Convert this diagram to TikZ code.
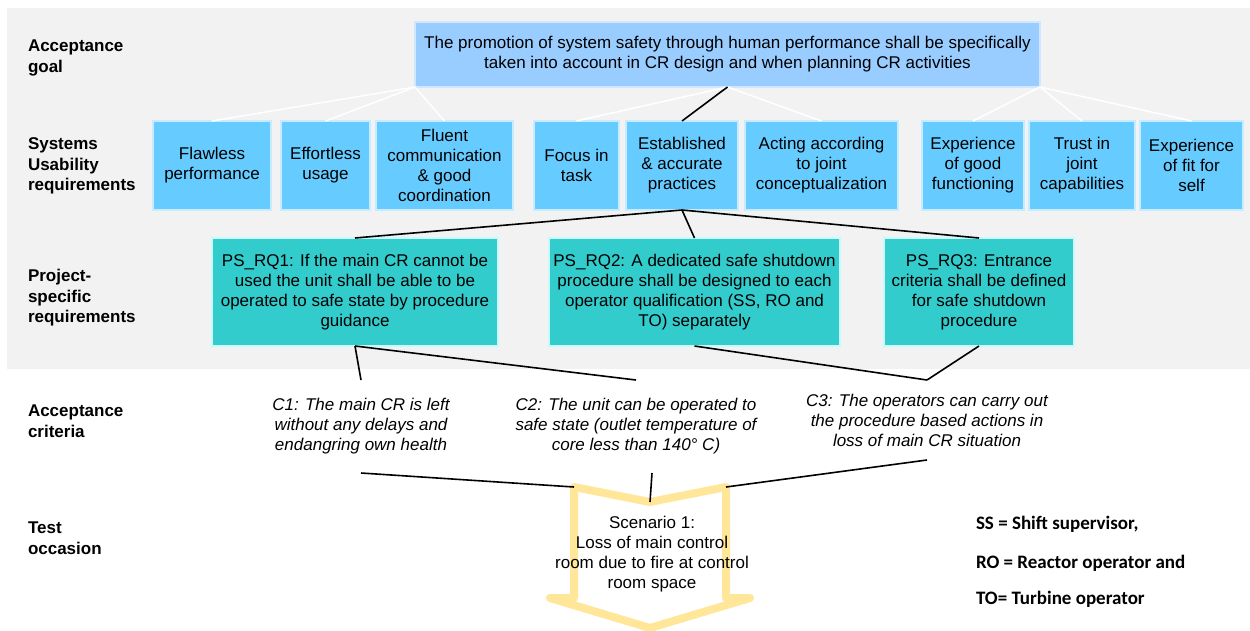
\documentclass[tikz,border=0pt]{standalone}
\usepackage{fontspec}
\setmainfont{Liberation Sans}
\newfontfamily\legendfont{Carlito}
\usetikzlibrary{calc}

\definecolor{panelgray}{HTML}{F2F2F2}
\definecolor{goalblue}{HTML}{99CCFF}
\definecolor{goaledge}{HTML}{CFE7FF}
\definecolor{usablue}{HTML}{66CCFF}
\definecolor{usaedge}{HTML}{C8ECFF}
\definecolor{psteal}{HTML}{33CCCC}
\definecolor{psedge}{HTML}{C8FAFA}
\definecolor{arrowyellow}{HTML}{FFE699}

\begin{document}
\begin{tikzpicture}[x=1pt,y=-1pt,
  every node/.style={inner sep=0pt, outer sep=0pt},
  txt/.style={font=\fontsize{17}{20}\selectfont, align=center},
  boxtxt/.style={txt, execute at begin node={\vspace*{3pt}}},
  goalbox/.style={boxtxt, fill=goalblue, draw=goaledge, line width=1.5pt},
  usabox/.style={boxtxt, fill=usablue, draw=usaedge, line width=1.5pt, minimum height=89pt},
  psbox/.style={boxtxt, fill=psteal, draw=psedge, line width=1.5pt, minimum height=108pt},
  rowlabel/.style={font=\fontsize{17}{20.5}\selectfont\bfseries, align=left, anchor=west},
  crit/.style={font=\fontsize{17}{20}\selectfont\itshape, align=center},
  wlink/.style={white, line width=1.5pt},
  blink/.style={black, line width=1.6pt},
  scen/.style={arrowyellow, line width=8pt, line join=round, line cap=round},
  legendtxt/.style={font=\legendfont\fontsize{19}{23}\selectfont\bfseries, anchor=base west}
]
\useasboundingbox (0,0) rectangle (1250,630);

% shaded band behind the requirement levels
\fill[panelgray] (7,8) rectangle (1250,369);

% row labels
\node[rowlabel] (lgoal) at (28,58) {Acceptance\\goal};
\node[rowlabel] (lusa) at (28,166) {Systems\\Usability\\requirements};
\node[rowlabel] (lps) at (28,298) {Project-\\specific\\requirements};
\node[rowlabel] (lcrit) at (28,421) {Acceptance\\criteria};
\node[rowlabel] (ltest) at (28,538) {Test\\occasion};

% acceptance goal
\node[goalbox, minimum width=625pt, minimum height=65pt] (goal) at (727.5,54.5)
  {The promotion of system safety through human performance shall be specifically\\
   taken into account in CR design and when planning CR activities};

% systems usability requirements
\node[usabox, minimum width=118pt] (flaw)    at (212,165.5)   {Flawless\\performance};
\node[usabox, minimum width=89pt]  (effort)  at (325.5,165.5) {Effortless\\usage};
\node[usabox, minimum width=137pt] (fluent)  at (444.5,165.5) {Fluent\\communication\\\& good\\coordination};
\node[usabox, minimum width=85pt]  (focus)   at (576.5,165.5) {Focus in\\task};
\node[usabox, minimum width=112pt] (estab)   at (682,165.5)   {Established\\\& accurate\\practices};
\node[usabox, minimum width=153pt] (acting)  at (821.5,165.5) {Acting according\\to joint\\conceptualization};
\node[usabox, minimum width=102pt] (expgood) at (973,165.5)   {Experience\\of good\\functioning};
\node[usabox, minimum width=106pt] (trust)   at (1082,165.5)  {Trust in\\joint\\capabilities};
\node[usabox, minimum width=103pt] (expfit)  at (1191.5,165.5){Experience\\of fit for\\self};

% project-specific requirements
\node[psbox, minimum width=286pt] (ps1) at (355,292)
  {PS\_RQ1: If the main CR cannot be\\used the unit shall be able to be\\operated to safe state by procedure\\guidance};
\node[psbox, minimum width=291pt] (ps2) at (694.5,292)
  {PS\_RQ2: A dedicated safe shutdown\\procedure shall be designed to each\\operator qualification (SS, RO and\\TO) separately};
\node[psbox, minimum width=190pt] (ps3) at (979,292)
  {PS\_RQ3: Entrance\\criteria shall be defined\\for safe shutdown\\procedure};

% acceptance criteria
\node[crit, minimum height=93pt] (c1) at (361,426.5)
  {C1: The main CR is left\\without any delays and\\endangring own health};
\node[crit, minimum height=93pt] (c2) at (636,426.5)
  {C2: The unit can be operated to\\safe state (outlet temperature of\\core less than 140° C)};
\node[crit, minimum height=80pt] (c3) at (927,420)
  {C3: The operators can carry out\\the procedure based actions in\\loss of main CR situation};
\coordinate (c2b) at (652,473);

% test occasion arrow
\coordinate (atl) at (574,487);
\coordinate (notch) at (650,502);
\coordinate (atr) at (726,487);
\coordinate (arb) at (726,598);
\coordinate (ahr) at (750,598);
\coordinate (tip) at (650,628);
\coordinate (ahl) at (550,598);
\coordinate (alb) at (574,598);
\draw[scen] (atl) -- (notch) -- (atr) -- (arb) -- (ahr) -- (tip) -- (ahl) -- (alb) -- cycle;
\node[txt] (scenario) at (652,554)
  {Scenario 1:\\Loss of main control\\room due to fire at control\\room space};

% links from the goal to the usability requirements
\draw[wlink] (goal.south west) -- (flaw.north);
\draw[wlink] (goal.south west) -- (effort.north);
\draw[wlink] (goal.south west) -- (fluent.north);
\draw[wlink] (goal.south) -- (focus.north);
\draw[wlink] (goal.south) -- (acting.north);
\draw[wlink] (goal.south east) -- (expgood.north);
\draw[wlink] (goal.south east) -- (trust.north);
\draw[wlink] (goal.south east) -- (expfit.north);

% highlighted chain
\draw[blink] (goal.south) -- (estab.north);
\draw[blink] (estab.south) -- (ps1.north);
\draw[blink] (estab.south) -- (ps2.north);
\draw[blink] (estab.south) -- (ps3.north);
\draw[blink] (ps1.south) -- (c1.north);
\draw[blink] (ps1.south) -- (c2.north);
\draw[blink] (ps2.south) -- (c3.north);
\draw[blink] (ps3.south) -- (c3.north);
\draw[blink] (c1.south) -- (atl);
\draw[blink] (c2b) -- (notch);
\draw[blink] (c3.south) -- (atr);

% abbreviations
\node[legendtxt] (ss) at (976,529) {SS = Shift supervisor,};
\node[legendtxt] (ro) at (976,568) {RO = Reactor operator and};
\node[legendtxt] (to) at (976,604) {TO= Turbine operator};
\end{tikzpicture}
\end{document}
